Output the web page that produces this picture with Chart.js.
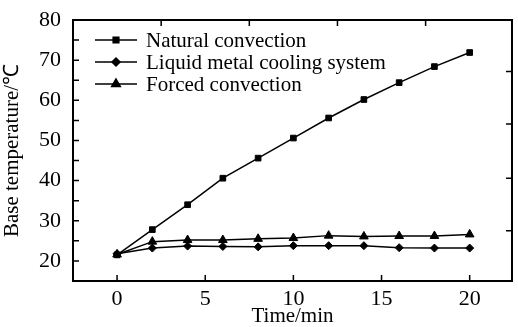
<!DOCTYPE html>
<html>
<head>
<meta charset="utf-8">
<script src="https://cdn.jsdelivr.net/npm/chart.js@4"></script>
<style>
  html, body { margin: 0; padding: 0; background: #fff; }
  #wrap { width: 518px; height: 327px; }
</style>
</head>
<body>
<div id="wrap"><canvas id="myChart" width="518" height="327"></canvas></div>
<script>
// time in minutes
let timeMin = [0, 2, 4, 6, 8, 10, 12, 14, 16, 18, 20];
let natural = [21.5, 27.8, 34.0, 40.6, 45.6, 50.6, 55.6, 60.2, 64.4, 68.4, 71.9];
let liquidMetal = [21.8, 23.2, 23.7, 23.6, 23.5, 23.8, 23.8, 23.8, 23.3, 23.2, 23.2];
let forced = [21.6, 24.8, 25.2, 25.2, 25.5, 25.7, 26.3, 26.1, 26.2, 26.2, 26.6];
let seriesNames = ['Natural convection', 'Liquid metal cooling system', 'Forced convection'];
let xTicks = [0, 5, 10, 15, 20];
let yTicks = [20, 30, 40, 50, 60, 70, 80];
let yMinorTicks = [20, 25, 30, 35, 40, 45, 50, 55, 60, 65, 70, 75, 80];
let topTicks = [2.5, 7.5, 12.5, 17.5];
let rightTicks = [27.5, 40.6, 54.1, 67.2];

const FONT = 'Liberation Serif';

function makeSet(label, data, style) {
    return {
        label: label,
        data: timeMin.map((t, i) => ({x: t, y: data[i]})),
        borderColor: '#000',
        backgroundColor: '#000',
        borderWidth: 1.5,
        pointStyle: style,
        pointRadius: style === 'triangle' ? 5 : 4,
        pointBorderWidth: 1,
        tension: 0
    };
}

// frame, inward ticks and legend
const framePlugin = {
    id: 'frame',
    afterDraw(chart) {
        const ctx = chart.ctx;
        const a = chart.chartArea;
        const xs = chart.scales.x, ys = chart.scales.y;
        ctx.save();
        ctx.strokeStyle = '#000';
        ctx.lineWidth = 2;
        ctx.strokeRect(a.left, a.top, a.right - a.left, a.bottom - a.top);
        ctx.lineWidth = 1.5;
        ctx.beginPath();
        xTicks.forEach(v => {
            let px = xs.getPixelForValue(v);
            ctx.moveTo(px, a.bottom); ctx.lineTo(px, a.bottom - 6);
        });
        topTicks.forEach(v => {
            let px = xs.getPixelForValue(v);
            ctx.moveTo(px, a.top); ctx.lineTo(px, a.top + 6);
        });
        yMinorTicks.forEach(v => {
            let py = ys.getPixelForValue(v);
            ctx.moveTo(a.left, py); ctx.lineTo(a.left + 6, py);
        });
        rightTicks.forEach(v => {
            let py = ys.getPixelForValue(v);
            ctx.moveTo(a.right, py); ctx.lineTo(a.right - 6, py);
        });
        ctx.stroke();

        // legend
        ctx.font = '21px "' + FONT + '"';
        ctx.textBaseline = 'middle';
        ctx.fillStyle = '#000';
        chart.data.datasets.forEach((ds, i) => {
            let y = a.top + 20 + i * 22;
            let x0 = a.left + 22, x1 = a.left + 64;
            ctx.lineWidth = 1.5;
            ctx.beginPath();
            ctx.moveTo(x0, y); ctx.lineTo(x1, y);
            ctx.stroke();
            Chart.helpers.drawPoint(ctx, {pointStyle: ds.pointStyle, radius: ds.pointRadius, rotation: 0, borderWidth: 1}, (x0 + x1) / 2, y);
            ctx.fill();
            ctx.fillText(ds.label, a.left + 73, y + 1);
        });
        ctx.restore();
    }
};

const ctx = document.getElementById('myChart').getContext('2d');
const myChart = new Chart(ctx, {
    type: 'line',
    data: {
        datasets: [
            makeSet(seriesNames[0], natural, 'rect'),
            makeSet(seriesNames[1], liquidMetal, 'rectRot'),
            makeSet(seriesNames[2], forced, 'triangle')
        ]
    },
    options: {
        responsive: false,
        animation: false,
        layout: { padding: { top: 20, right: 3, left: 0, bottom: 0 } },
        plugins: {
            legend: { display: false },
            tooltip: { enabled: false }
        },
        scales: {
            x: {
                type: 'linear',
                min: -2.5,
                max: 22.4,
                afterBuildTicks: s => { s.ticks = xTicks.map(v => ({value: v})); },
                afterFit: s => { s.height = 46; s.paddingLeft = 0; s.paddingRight = 0; },
                grid: { display: false, drawTicks: false },
                border: { display: false },
                ticks: { color: '#000', font: { family: FONT, size: 22 }, padding: 5, maxRotation: 0 },
                title: { display: true, text: 'Time/min', color: '#000', font: { family: FONT, size: 21, lineHeight: 1 }, padding: { top: 0, bottom: 0 } }
            },
            y: {
                min: 15,
                max: 80,
                afterBuildTicks: s => { s.ticks = yTicks.map(v => ({value: v})); },
                afterFit: s => { s.width = 73; s.paddingTop = 0; s.paddingBottom = 0; },
                grid: { display: false, drawTicks: false },
                border: { display: false },
                ticks: { color: '#000', font: { family: FONT, size: 22 }, padding: 12 },
                title: { display: true, text: 'Base temperature/\u2103', color: '#000', font: { family: FONT, size: 21 }, padding: { top: 0, bottom: 0 } }
            }
        }
    },
    plugins: [framePlugin]
});
</script>
</body>
</html>
